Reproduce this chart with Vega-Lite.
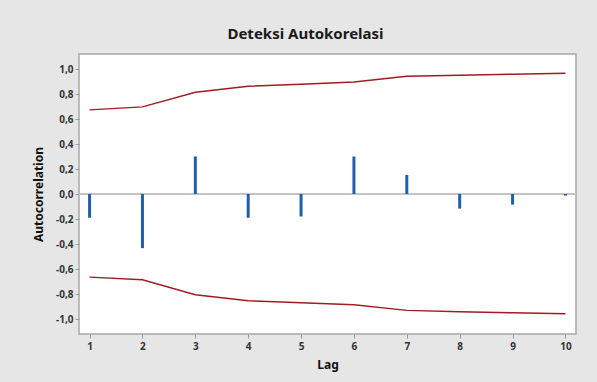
{
  "$schema": "https://vega.github.io/schema/vega-lite/v6.json",
  "width": 497,
  "height": 280,
  "autosize": {"type": "none"},
  "padding": {"left": 79, "top": 54, "right": 21, "bottom": 48},
  "background": "#e6e6e6",
  "title": {
    "text": "Deteksi Autokorelasi",
    "font": "Noto Sans",
    "fontSize": 15,
    "fontWeight": "bold",
    "color": "#1a1a1a",
    "anchor": "middle",
    "dx": -22,
    "offset": 12
  },
  "config": {
    "locale": {"number": {"decimal": ",", "thousands": ".", "grouping": [3], "currency": ["", ""], "minus": "-"}},
    "view": {"fill": "white", "stroke": "#a8a8a8", "strokeWidth": 1.5},
    "axis": {
      "labelFont": "Noto Sans",
      "labelFontSize": 10,
      "labelFontWeight": "bold",
      "labelColor": "#333333",
      "labelOverlap": false,
      "titleFont": "Noto Sans",
      "titleFontSize": 12,
      "titleFontWeight": "bold",
      "titleColor": "#111111",
      "tickColor": "#999999",
      "tickSize": 4,
      "domain": false,
      "grid": false
    }
  },
  "data": {
    "values": [
      {"lag": 1, "acf": -0.19, "upper": 0.673, "lower": -0.665},
      {"lag": 2, "acf": -0.433, "upper": 0.697, "lower": -0.686},
      {"lag": 3, "acf": 0.30, "upper": 0.814, "lower": -0.806},
      {"lag": 4, "acf": -0.19, "upper": 0.862, "lower": -0.854},
      {"lag": 5, "acf": -0.18, "upper": 0.878, "lower": -0.870},
      {"lag": 6, "acf": 0.30, "upper": 0.896, "lower": -0.886},
      {"lag": 7, "acf": 0.152, "upper": 0.942, "lower": -0.931},
      {"lag": 8, "acf": -0.117, "upper": 0.950, "lower": -0.942},
      {"lag": 9, "acf": -0.085, "upper": 0.958, "lower": -0.950},
      {"lag": 10, "acf": -0.013, "upper": 0.966, "lower": -0.958}
    ]
  },
  "layer": [
    {
      "mark": {"type": "rule", "color": "#c4c4c4", "strokeWidth": 2},
      "encoding": {
        "y": {"datum": 0, "type": "quantitative"}
      }
    },
    {
      "mark": {"type": "rule", "color": "#1f5fae", "strokeWidth": 3},
      "encoding": {
        "x": {
          "field": "lag", "type": "quantitative",
          "scale": {"domain": [0.8, 10.2], "nice": false, "zero": false},
          "axis": {"values": [1, 2, 3, 4, 5, 6, 7, 8, 9, 10], "tickCount": 20, "format": "d", "title": "Lag", "labelPadding": 3, "titlePadding": 8}
        },
        "y": {
          "field": "acf", "type": "quantitative",
          "scale": {"domain": [-1.12, 1.12], "nice": false},
          "axis": {"values": [-1, -0.8, -0.6, -0.4, -0.2, 0, 0.2, 0.4, 0.6, 0.8, 1], "tickCount": 20, "format": ".1f", "title": "Autocorrelation", "labelPadding": 2, "titlePadding": 10}
        },
        "y2": {"datum": 0}
      }
    },
    {
      "mark": {"type": "line", "color": "#a01c22", "strokeWidth": 1.5},
      "encoding": {
        "x": {"field": "lag", "type": "quantitative"},
        "y": {"field": "upper", "type": "quantitative"}
      }
    },
    {
      "mark": {"type": "line", "color": "#a01c22", "strokeWidth": 1.5},
      "encoding": {
        "x": {"field": "lag", "type": "quantitative"},
        "y": {"field": "lower", "type": "quantitative"}
      }
    }
  ]
}
